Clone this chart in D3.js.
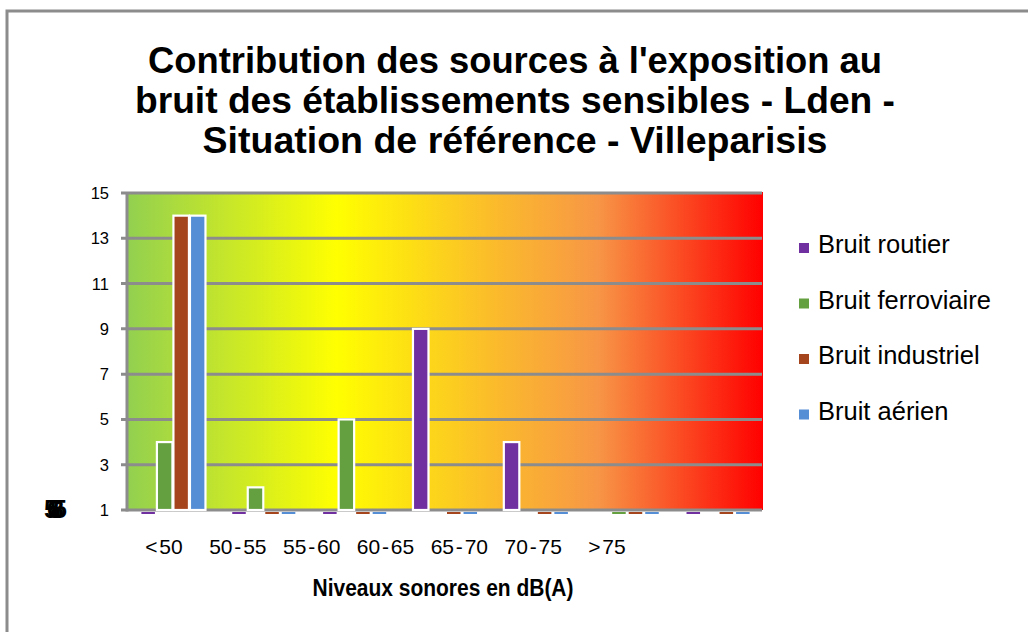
<!DOCTYPE html>
<html>
<head>
<meta charset="utf-8">
<script src="https://cdn.jsdelivr.net/npm/d3@7"></script>
<style>
  body { margin: 0; background: #fff; }
  svg { display: block; font-family: Arial, "Liberation Sans", sans-serif; }
</style>
</head>
<body>
<svg id="chart" width="1028" height="632"></svg>
<script>
// data (null = no bar at all)
const categories = ["< 50", "50 - 55", "55 - 60", "60 - 65", "65 - 70", "70 - 75", "> 75"];
const seriesNames = ["Bruit routier", "Bruit ferroviaire", "Bruit industriel", "Bruit aérien"];
const routier = [0, 0, 0, 9, 4, null, 0];
const ferroviaire = [4, 2, 5, null, null, 0, null];
const industriel = [14, 0, 0, 0, 0, 0, 0];
const aerien = [14, 0, 0, 0, 0, 0, 0];
const yTicks = [1, 3, 5, 7, 9, 11, 13, 15];
const titleLines = [
  "Contribution des sources à l'exposition au",
  "bruit des établissements sensibles - Lden -",
  "Situation de référence - Villeparisis"
];
const colors = ["#7030A0", "#64A040", "#A5451E", "#558ED5"];

const allSeries = [routier, ferroviaire, industriel, aerien];

const svg = d3.select("#chart");

// outer frame (runs off the right/bottom edge like the picture)
svg.append("rect")
  .attr("x", 7).attr("y", 11)
  .attr("width", 1040).attr("height", 640)
  .attr("fill", "#fff")
  .attr("stroke", "#8c8c8c")
  .attr("stroke-width", 3);

const plot = { left: 127, right: 763, top: 192, bottom: 510 };

// gradient background of the plot area
const defs = svg.append("defs");
const grad = defs.append("linearGradient").attr("id", "bg")
  .attr("x1", "0%").attr("x2", "100%").attr("y1", "0%").attr("y2", "0%");
[["0%", "#92D050"], ["33%", "#FFFF00"], ["57%", "#FBBD2A"], ["74%", "#F79646"], ["100%", "#FF0000"]]
  .forEach(([o, c]) => grad.append("stop").attr("offset", o).attr("stop-color", c));

svg.append("rect")
  .attr("x", plot.left).attr("y", plot.top)
  .attr("width", plot.right - plot.left).attr("height", plot.bottom - plot.top)
  .attr("fill", "url(#bg)");

const y = d3.scaleLinear().domain([1, 15]).range([plot.bottom, plot.top + 1]);
const x0 = d3.scaleBand().domain(categories).range([plot.left, plot.right]);
const x1 = d3.scaleBand().domain(d3.range(4)).range([0, x0.bandwidth()]).paddingOuter(0.75);
// tick labels sit off-centre in the reference
const xLabel = d3.scalePoint().domain(categories).range([164, 607]);

// gridlines
svg.append("g")
  .selectAll("line")
  .data(yTicks)
  .enter()
  .append("line")
  .attr("x1", plot.left - 6)
  .attr("x2", plot.right - 1)
  .attr("y1", (d) => y(d))
  .attr("y2", (d) => y(d))
  .attr("stroke", "#8c8c8c")
  .attr("stroke-width", 3);

// y axis line
svg.append("line")
  .attr("x1", plot.left).attr("x2", plot.left)
  .attr("y1", plot.top).attr("y2", plot.bottom + 1.5)
  .attr("stroke", "#8c8c8c")
  .attr("stroke-width", 3);

// y tick labels
svg.append("g")
  .selectAll("text")
  .data(yTicks)
  .enter()
  .append("text")
  .attr("x", 109)
  .attr("y", (d) => y(d) + 6)
  .attr("text-anchor", "end")
  .attr("font-size", 16.5)
  .text((d) => d);

// bars
const bars = [];
allSeries.forEach((vals, s) => {
  vals.forEach((v, i) => {
    if (v !== null) bars.push({ s, cat: categories[i], v });
  });
});

svg.append("g")
  .selectAll("rect")
  .data(bars.filter((d) => d.v > 1))
  .enter()
  .append("rect")
  .attr("x", (d) => x0(d.cat) + x1(d.s) + 1)
  .attr("y", (d) => y(d.v))
  .attr("width", x1.bandwidth() - 1)
  .attr("height", (d) => y(1) - y(d.v))
  .attr("fill", (d) => colors[d.s])
  .attr("stroke", "#fff")
  .attr("stroke-width", 2.2);

// zero values: the bar dips below the axis minimum, only a sliver shows
svg.append("g")
  .selectAll("rect")
  .data(bars.filter((d) => d.v < 1))
  .enter()
  .append("rect")
  .attr("x", (d) => x0(d.cat) + x1(d.s) + 2)
  .attr("y", y(1) + 2)
  .attr("width", x1.bandwidth() - 3)
  .attr("height", 2)
  .attr("fill", (d) => colors[d.s]);

// x tick labels
svg.append("g")
  .selectAll("text")
  .data(categories)
  .enter()
  .append("text")
  .attr("x", (d) => xLabel(d))
  .attr("y", 554)
  .attr("text-anchor", "middle")
  .attr("font-size", 21)
  .attr("word-spacing", -4)
  .text((d) => d);

// x axis title
svg.append("text")
  .attr("x", 443).attr("y", 596)
  .attr("text-anchor", "middle")
  .attr("font-size", 23)
  .attr("font-weight", "bold")
  .attr("textLength", 261)
  .attr("lengthAdjust", "spacingAndGlyphs")
  .text("Niveaux sonores en dB(A)");

// squashed y axis title blob
["5", "6", "8", "5"].forEach((c, i) => {
  svg.append("text")
    .attr("x", 44 + i * 3).attr("y", 518)
    .attr("font-size", 25)
    .attr("font-weight", "bold")
    .text(c);
});

// title
const titleWidths = [734, 760, 625];
svg.append("g")
  .selectAll("text")
  .data(titleLines)
  .enter()
  .append("text")
  .attr("x", 515)
  .attr("y", (d, i) => 73 + i * 40)
  .attr("text-anchor", "middle")
  .attr("font-size", 36)
  .attr("font-weight", "bold")
  .attr("textLength", (d, i) => titleWidths[i])
  .attr("lengthAdjust", "spacingAndGlyphs")
  .text((d) => d);

// legend
const legend = svg.append("g")
  .selectAll("g")
  .data(seriesNames)
  .enter()
  .append("g")
  .attr("transform", (d, i) => `translate(799, ${253 + i * 55.5})`);

legend.append("rect")
  .attr("x", 0).attr("y", -10)
  .attr("width", 10).attr("height", 10)
  .attr("fill", (d, i) => colors[i]);

legend.append("text")
  .attr("x", 19).attr("y", 0)
  .attr("font-size", 25.5)
  .text((d) => d);
</script>
</body>
</html>
